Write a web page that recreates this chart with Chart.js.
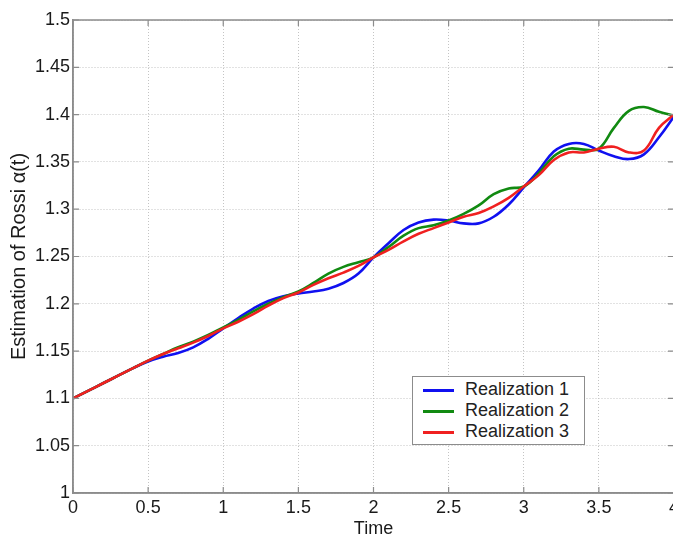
<!DOCTYPE html>
<html><head><meta charset="utf-8">
<script src="https://cdn.jsdelivr.net/npm/chart.js@4.4.0/dist/chart.umd.min.js"></script>
<style>
html,body{margin:0;padding:0;background:#fff;overflow:hidden;}
#wrap{position:relative;width:673px;height:538px;overflow:hidden;background:#fff;}
#c{position:absolute;left:0;top:0;}
#legend{position:absolute;left:412px;top:376px;width:171px;height:67px;border:1.5px solid #8c8c8c;background:#fff;font-family:"Liberation Sans",Arial,sans-serif;font-size:18px;color:#222;}
.row{position:absolute;left:0;width:171px;height:21px;line-height:21px;}
.sw{position:absolute;left:10px;top:10px;width:31px;height:2.5px;}
.lb{position:absolute;left:52px;top:0;white-space:nowrap;}
</style></head>
<body>
<div id="wrap">
<canvas id="c" width="700" height="538" style="width:700px;height:538px"></canvas>
<div id="legend"></div>
</div>
<script>
const times = [0.0,0.1,0.2,0.3,0.4,0.5,0.6,0.7,0.8,0.9,1.0,1.1,1.2,1.3,1.4,1.5,1.6,1.7,1.8,1.9,2.0,2.1,2.2,2.3,2.4,2.5,2.6,2.7,2.8,2.9,3.0,3.1,3.2,3.3,3.4,3.5,3.6,3.7,3.8,3.9,4.0];
const realization1 = [1.100,1.108,1.116,1.124,1.132,1.139,1.144,1.148,1.154,1.163,1.174,1.185,1.195,1.203,1.208,1.211,1.213,1.216,1.222,1.232,1.249,1.264,1.278,1.286,1.289,1.288,1.285,1.285,1.292,1.305,1.323,1.341,1.361,1.369,1.369,1.362,1.356,1.353,1.358,1.376,1.398];
const realization2 = [1.100,1.108,1.116,1.124,1.132,1.140,1.147,1.154,1.160,1.167,1.175,1.183,1.192,1.200,1.207,1.213,1.222,1.232,1.239,1.244,1.249,1.260,1.272,1.280,1.283,1.288,1.295,1.304,1.316,1.322,1.324,1.338,1.356,1.364,1.363,1.364,1.386,1.404,1.408,1.403,1.399];
const realization3 = [1.100,1.108,1.116,1.124,1.132,1.140,1.147,1.153,1.159,1.166,1.174,1.181,1.189,1.198,1.206,1.212,1.220,1.227,1.233,1.240,1.249,1.257,1.266,1.274,1.280,1.286,1.292,1.296,1.303,1.312,1.324,1.336,1.352,1.360,1.360,1.364,1.366,1.360,1.362,1.386,1.400];
const seriesNames = ['Realization 1','Realization 2','Realization 3'];
const xTickValues = [0,0.5,1,1.5,2,2.5,3,3.5,4];
const xTickLabels = ['0','0.5','1','1.5','2','2.5','3','3.5','4'];
const yTickValues = [1,1.05,1.1,1.15,1.2,1.25,1.3,1.35,1.4,1.45,1.5];
const yTickLabels = ['1','1.05','1.1','1.15','1.2','1.25','1.3','1.35','1.4','1.45','1.5'];
const xTitle = 'Time';
const yTitle = 'Estimation of Rossi \u03b1(t)';

const seriesColors = ['#1010f0','#118a11','#f02020'];
const allSeries = [realization1, realization2, realization3];
const FONT = '"Liberation Sans", Arial, sans-serif';

const boxPlugin = {
  id: 'box',
  afterDraw(chart) {
    const {ctx, chartArea: a, scales} = chart;
    ctx.save();
    ctx.strokeStyle = '#8c8c8c';
    ctx.lineWidth = 1.5;
    ctx.strokeRect(a.left, a.top, a.right - a.left, a.bottom - a.top);
    ctx.lineWidth = 1.2;
    ctx.beginPath();
    xTickValues.forEach(v => {
      const p = scales.x.getPixelForValue(v);
      ctx.moveTo(p, a.bottom); ctx.lineTo(p, a.bottom - 6);
      ctx.moveTo(p, a.top); ctx.lineTo(p, a.top + 6);
    });
    yTickValues.forEach(v => {
      const p = scales.y.getPixelForValue(v);
      ctx.moveTo(a.left, p); ctx.lineTo(a.left + 6, p);
      ctx.moveTo(a.right, p); ctx.lineTo(a.right - 6, p);
    });
    ctx.stroke();
    ctx.restore();
  }
};

const datasets = allSeries.map((s, k) => ({
  label: seriesNames[k],
  data: times.map((t, i) => ({x: t, y: s[i]})),
  borderColor: seriesColors[k],
  backgroundColor: seriesColors[k],
  borderWidth: 2.6,
  pointRadius: 0,
  tension: 0.4,
  fill: false,
  order: 2 - k
}));

new Chart(document.getElementById('c'), {
  type: 'line',
  data: { datasets },
  options: {
    responsive: false,
    animation: false,
    devicePixelRatio: 1,
    layout: { padding: { top: 20, right: 26, left: 0, bottom: 0 } },
    plugins: { legend: { display: false }, tooltip: { enabled: false } },
    scales: {
      x: {
        type: 'linear', min: 0, max: 4,
        afterBuildTicks: s => { s.ticks = xTickValues.map(v => ({value: v})); },
        afterFit: s => { s.height = 45; },
        ticks: { padding: 4, color: '#1a1a1a', font: { family: FONT, size: 18 }, maxRotation: 0, autoSkip: false,
                 callback: (v, i) => xTickLabels[i] },
        grid: { color: '#c4c4c4', lineWidth: 1, drawTicks: false },
        border: { display: true, color: '#8c8c8c', width: 1.5, dash: [1, 2] },
        title: { display: true, text: xTitle, color: '#1a1a1a', font: { family: FONT, size: 18, lineHeight: 1 }, padding: 0 }
      },
      y: {
        type: 'linear', min: 1, max: 1.5,
        afterBuildTicks: s => { s.ticks = yTickValues.map(v => ({value: v})); },
        afterFit: s => { s.width = 73; },
        ticks: { padding: 3, color: '#1a1a1a', font: { family: FONT, size: 18 }, autoSkip: false,
                 callback: (v, i) => yTickLabels[i] },
        grid: { color: '#c4c4c4', lineWidth: 1, drawTicks: false },
        border: { display: true, color: '#8c8c8c', width: 1.5, dash: [1, 2] },
        title: { display: true, text: yTitle, color: '#1a1a1a', font: { family: FONT, size: 20, lineHeight: 1.2 }, padding: { top: 7, bottom: 0 } }
      }
    }
  },
  plugins: [boxPlugin]
});

const leg = document.getElementById('legend');
seriesNames.forEach((n, k) => {
  const row = document.createElement('div');
  row.className = 'row';
  row.style.top = (2 + k * 21) + 'px';
  const sw = document.createElement('div');
  sw.className = 'sw';
  sw.style.background = seriesColors[k];
  const lb = document.createElement('div');
  lb.className = 'lb';
  lb.textContent = n;
  row.appendChild(sw); row.appendChild(lb);
  leg.appendChild(row);
});
</script>
</body></html>
